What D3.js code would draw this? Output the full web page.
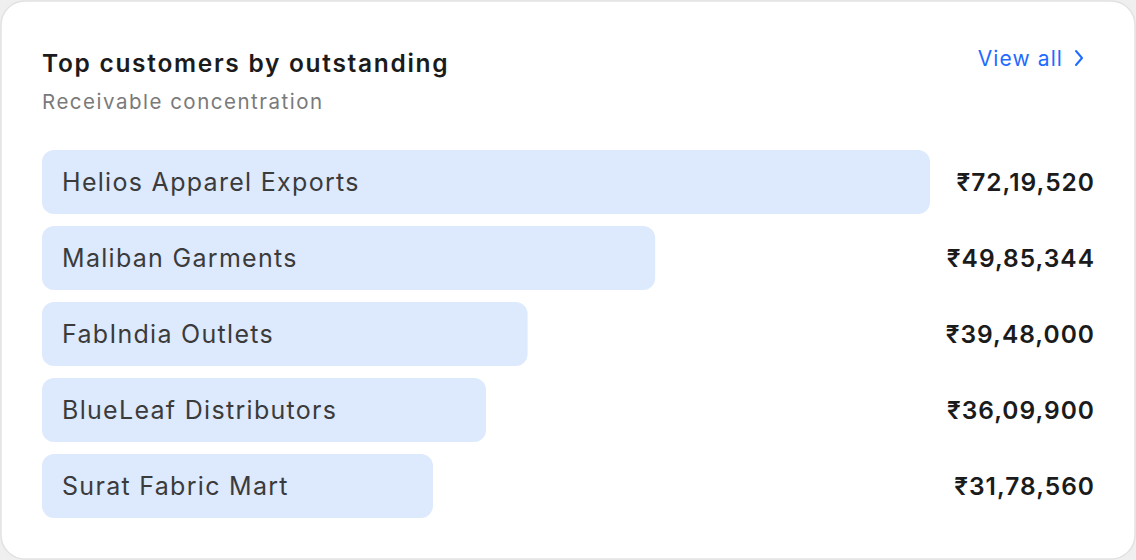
<!DOCTYPE html>
<html><head><meta charset="utf-8">
<script src="https://cdn.jsdelivr.net/npm/d3@7"></script>
<style>
html,body{margin:0;padding:0;background:#efefef;}
svg{display:block;font-family:Inter,"Noto Sans",sans-serif;}
</style></head>
<body>
<div id="chart"></div>
<script>
const customers = ["Helios Apparel Exports","Maliban Garments","FabIndia Outlets","BlueLeaf Distributors","Surat Fabric Mart"];
const outstanding = [7219520, 4985344, 3948000, 3609900, 3178560];
const title = "Top customers by outstanding";
const subtitle = "Receivable concentration";
const linkLabel = "View all";

const W = 1136, H = 560;
const svg = d3.select("#chart").append("svg").attr("width", W).attr("height", H);

svg.append("rect").attr("x",0).attr("y",0).attr("width",W).attr("height",H).attr("fill","#efefef");
svg.append("rect").attr("x",1).attr("y",1).attr("width",W-2).attr("height",H-2)
  .attr("rx",24).attr("fill","#ffffff").attr("stroke","#e2e2e2").attr("stroke-width",1.5);

svg.append("text").attr("x",42).attr("y",72).attr("font-size",24.5).attr("font-weight",600)
  .attr("letter-spacing",1.7).attr("fill","#1b1b1b").text(title);
svg.append("text").attr("x",42).attr("y",109).attr("font-size",20.5).attr("letter-spacing",1.5)
  .attr("fill","#7a7a7a").text(subtitle);

svg.append("text").attr("x",1063).attr("y",66).attr("text-anchor","end").attr("font-size",21)
  .attr("letter-spacing",1.1).attr("fill","#1f6bff").text(linkLabel);
svg.append("path").attr("d","M1076,51 L1082,58 L1076,65").attr("fill","none")
  .attr("stroke","#1f6bff").attr("stroke-width",2).attr("stroke-linecap","round").attr("stroke-linejoin","round");

function inr(v){
  const s = String(Math.round(v));
  if (s.length <= 3) return "₹" + s;
  const last3 = s.slice(-3);
  let rest = s.slice(0,-3);
  const parts = [];
  while (rest.length > 2){ parts.unshift(rest.slice(-2)); rest = rest.slice(0,-2); }
  if (rest.length) parts.unshift(rest);
  return "₹" + parts.join(",") + "," + last3;
}

const x = d3.scaleLinear().domain([0, d3.max(outstanding)]).range([0, 888]);
const data = customers.map((c,i)=>({name:c, value:outstanding[i]}));
const rowStep = 76, barH = 64;
const yPos = d3.scalePoint().domain(customers).range([150, 150 + rowStep*(customers.length-1)]);

const g = svg.append("g");
const rows = g.selectAll("g.row").data(data).join("g").attr("class","row")
  .attr("transform", d=>`translate(0,${yPos(d.name)})`);
rows.append("rect").attr("x",42).attr("y",0).attr("height",barH).attr("width",d=>x(d.value))
  .attr("rx",12).attr("fill","#dde9fd");
rows.append("text").attr("x",62).attr("y",barH/2).attr("dy","0.36em").attr("font-size",25)
  .attr("letter-spacing",1.3).attr("fill","#3b3b3b").text(d=>d.name);
rows.append("text").attr("x",1095).attr("y",barH/2).attr("dy","0.36em").attr("text-anchor","end")
  .attr("font-size",24.5).attr("font-weight",600).attr("letter-spacing",1).attr("fill","#1b1b1b").text(d=>inr(d.value));
</script>
</body></html>
